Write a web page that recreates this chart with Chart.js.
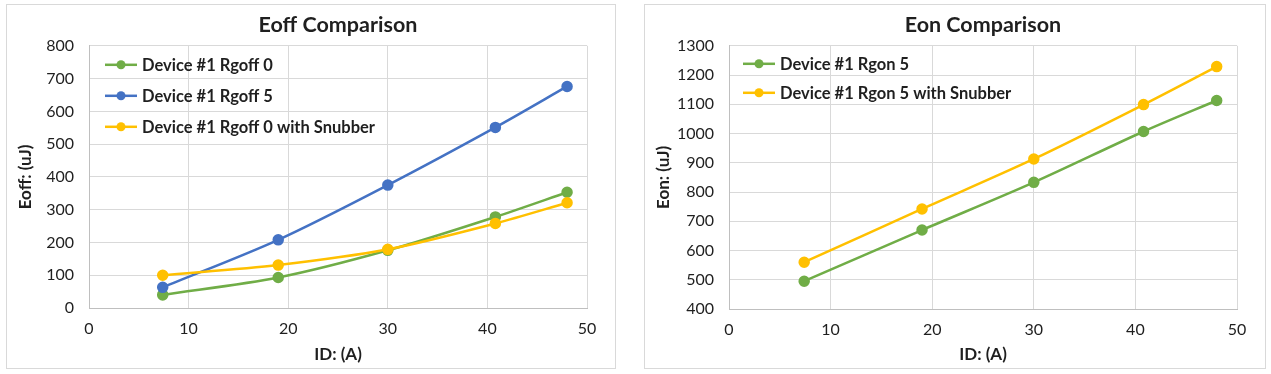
<!DOCTYPE html>
<html>
<head>
<meta charset="utf-8">
<script src="https://cdn.jsdelivr.net/npm/chart.js@4.4.1/dist/chart.umd.min.js"></script>
<style>
  body { margin: 0; background: #fff; width: 1271px; height: 374px; overflow: hidden; }
  .box { position: absolute; border: 1px solid #d9d9d9; background: #fff; }
  #boxOff { left: 6px; top: 4px; width: 608px; height: 363px; }
  #boxOn { left: 644px; top: 4px; width: 620px; height: 363px; }
</style>
</head>
<body>
<div class="box" id="boxOff"><canvas id="eoffChart"></canvas></div>
<div class="box" id="boxOn"><canvas id="eonChart"></canvas></div>
<script>
// data
var currentA = [7.4, 19, 30, 40.8, 48];
var eoffRg0 = [40, 93, 176, 278, 353];
var eoffRg5 = [63, 208, 375, 551, 676];
var eoffSnub = [100, 131, 179, 258, 321];
var eonRg5 = [495, 670, 833, 1007, 1113];
var eonSnub = [560, 742, 913, 1099, 1229];

var GREEN = '#70AD47', BLUE = '#4472C4', GOLD = '#FFC000';
var FONT = 'Lato, "Open Sans", sans-serif';
var TXT = '#1f1f1f';

function pts(ys) {
    return ys.map(function (y, i) { return { x: currentA[i], y: y }; });
}

function series(label, ys, color, order) {
    return {
        label: label,
        data: pts(ys),
        borderColor: color,
        backgroundColor: color,
        borderWidth: 2.5,
        pointRadius: 4.5,
        pointHoverRadius: 4.5,
        tension: 0.3,
        order: order
    };
}

// legend drawn inside the plot, top-left, like the Excel one
var insideLegend = {
    id: 'insideLegend',
    afterDraw: function (chart, args, opts) {
        var ctx = chart.ctx, area = chart.chartArea;
        ctx.save();
        ctx.font = 'bold 16.5px ' + FONT;
        ctx.textBaseline = 'middle';
        chart.data.datasets.forEach(function (ds, i) {
            var y = area.top + opts.y + i * opts.gap;
            var x0 = area.left + opts.x;
            ctx.strokeStyle = ds.borderColor;
            ctx.lineWidth = 2.5;
            ctx.beginPath();
            ctx.moveTo(x0, y);
            ctx.lineTo(x0 + 32, y);
            ctx.stroke();
            ctx.fillStyle = ds.borderColor;
            ctx.beginPath();
            ctx.arc(x0 + 16, y, 4.5, 0, Math.PI * 2);
            ctx.fill();
            ctx.fillStyle = TXT;
            ctx.fillText(ds.label, x0 + 37, y + 1);
        });
        ctx.restore();
    }
};

function makeChart(id, title, yTitle, yMin, yMax, datasets, yWidth, xHeight, legendOpts) {
    var ctx = document.getElementById(id).getContext('2d');
    return new Chart(ctx, {
        type: 'line',
        data: { datasets: datasets },
        plugins: [insideLegend],
        options: {
            responsive: true,
            maintainAspectRatio: false,
            animation: false,
            layout: { padding: { left: 0, right: 28, top: 0, bottom: 0 } },
            plugins: {
                legend: { display: false },
                tooltip: { enabled: false },
                title: {
                    display: true,
                    text: title,
                    fullSize: false,
                    color: TXT,
                    font: { family: FONT, size: 21.5, weight: 'bold' },
                    padding: { top: 7, bottom: 8 }
                },
                insideLegend: legendOpts
            },
            scales: {
                x: {
                    type: 'linear',
                    min: 0,
                    max: 50,
                    ticks: { stepSize: 10, color: TXT, font: { family: FONT, size: 16 }, padding: 11 },
                    grid: { color: '#d9d9d9', drawTicks: false },
                    border: { color: '#bfbfbf' },
                    title: { display: true, text: 'ID: (A)', color: TXT, font: { family: FONT, size: 17, weight: 'bold' }, padding: { top: 0, bottom: 3 } },
                    afterFit: function (s) { s.height = xHeight; }
                },
                y: {
                    min: yMin,
                    max: yMax,
                    ticks: {
                        stepSize: 100, color: TXT, font: { family: FONT, size: 16 }, padding: 15,
                        callback: function (v) { return String(v); }
                    },
                    grid: { color: '#d9d9d9', drawTicks: false },
                    border: { color: '#bfbfbf' },
                    title: { display: true, text: yTitle, color: TXT, font: { family: FONT, size: 17, weight: 'bold' }, padding: { top: 8, bottom: 0 } },
                    afterFit: function (s) { s.width = yWidth; }
                }
            }
        }
    });
}

makeChart('eoffChart', 'Eoff Comparison', 'Eoff: (uJ)', 0, 800, [
    series('Device #1 Rgoff 0', eoffRg0, GREEN, 2),
    series('Device #1 Rgoff 5', eoffRg5, BLUE, 1),
    series('Device #1 Rgoff 0 with Snubber', eoffSnub, GOLD, 0)
], 82, 60, { x: 16, y: 19, gap: 31 });

makeChart('eonChart', 'Eon Comparison', 'Eon: (uJ)', 400, 1300, [
    series('Device #1 Rgon 5', eonRg5, GREEN, 1),
    series('Device #1 Rgon 5 with Snubber', eonSnub, GOLD, 0)
], 84, 59, { x: 14, y: 18, gap: 29 });
</script>
</body>
</html>
